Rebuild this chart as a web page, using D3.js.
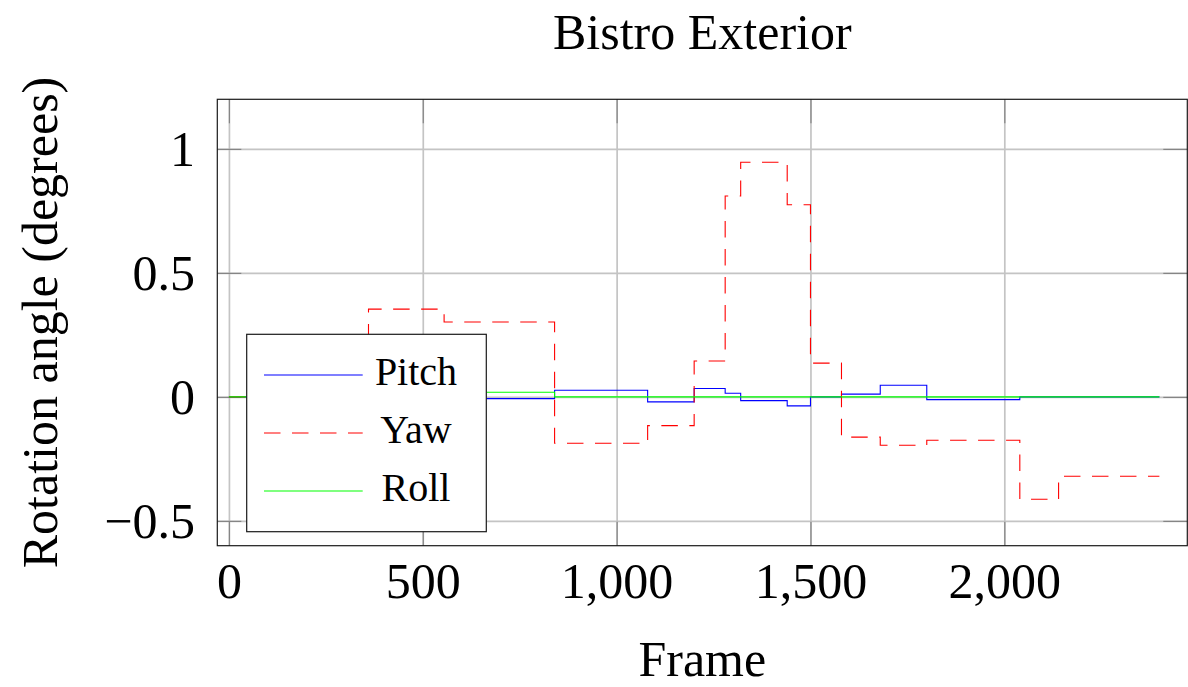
<!DOCTYPE html>
<html>
<head>
<meta charset="utf-8">
<script src="https://cdn.jsdelivr.net/npm/d3@7"></script>
<style>
  html, body { margin: 0; padding: 0; background: #fff; }
  svg { display: block; }
  text { font-family: "Liberation Serif", "Times New Roman", serif; fill: #000; }
</style>
</head>
<body>
<svg id="chart" width="1188" height="687"></svg>
<script>
// ---- Data (step series, value holds from frame until next frame) ----
const pitchFrames = [0, 360, 840, 1080, 1200, 1280, 1320, 1440, 1500, 1580, 1680, 1800, 2040, 2400];
const pitchValues = [0, -0.007, 0.027, -0.020, 0.034, 0.015, -0.015, -0.036, 0.0, 0.011, 0.047, -0.011, 0.0, 0.0];

const yawFrames = [0, 360, 555, 840, 1080, 1200, 1280, 1320, 1440, 1500, 1580, 1680, 1800, 2040, 2140, 2400];
const yawValues = [0, 0.354, 0.302, -0.187, -0.116, 0.145, 0.81, 0.946, 0.775, 0.136, -0.162, -0.195, -0.175, -0.413, -0.320, -0.320];

const rollFrames = [0, 360, 840, 2400];
const rollValues = [0, 0.019, 0.0, 0.0];

const xTicks = [0, 500, 1000, 1500, 2000];
const xTickLabels = ["0", "500", "1,000", "1,500", "2,000"];
const yTicks = [-0.5, 0, 0.5, 1];
const yTickLabels = ["\u22120.5", "0", "0.5", "1"];

const seriesNames = ["Pitch", "Yaw", "Roll"];
const seriesColors = ["#0000ff", "#ff0000", "#00ff00"];
const seriesDash = [null, "16.5 11.5", null];

// ---- Layout ----
const L = 217.3, R = 1187.3, T = 99.3, B = 545.7;
const svg = d3.select("#chart");

const x = d3.scaleLinear().domain([-30, 2472]).range([L, R]);
const y = d3.scaleLinear().domain([-0.6, 1.2]).range([B, T]);

// grid
const gridColor = "#c4c4c4";
const grid = svg.append("g");
grid.append("g").attr("transform", `translate(0,${B})`)
  .call(d3.axisBottom(x).tickValues(xTicks).tickSize(-(B - T)).tickFormat(""))
  .call(g => g.select(".domain").remove())
  .call(g => g.selectAll("line").attr("stroke", gridColor).attr("stroke-width", 1.7));
grid.append("g").attr("transform", `translate(${L},0)`)
  .call(d3.axisLeft(y).tickValues(yTicks).tickSize(-(R - L)).tickFormat(""))
  .call(g => g.select(".domain").remove())
  .call(g => g.selectAll("line").attr("stroke", gridColor).attr("stroke-width", 1.7));

// tick marks (inside, both sides)
const tickColor = "#858585", tickLen = 24;
const tickG = svg.append("g");
tickG.append("g").attr("transform", `translate(0,${B})`)
  .call(d3.axisBottom(x).tickValues(xTicks).tickSize(-tickLen).tickFormat(""))
  .call(g => g.select(".domain").remove())
  .call(g => g.selectAll("line").attr("stroke", tickColor).attr("stroke-width", 1.2));
tickG.append("g").attr("transform", `translate(0,${T})`)
  .call(d3.axisTop(x).tickValues(xTicks).tickSize(-tickLen).tickFormat(""))
  .call(g => g.select(".domain").remove())
  .call(g => g.selectAll("line").attr("stroke", tickColor).attr("stroke-width", 1.2));
tickG.append("g").attr("transform", `translate(${L},0)`)
  .call(d3.axisLeft(y).tickValues(yTicks).tickSize(-tickLen).tickFormat(""))
  .call(g => g.select(".domain").remove())
  .call(g => g.selectAll("line").attr("stroke", tickColor).attr("stroke-width", 1.2));
tickG.append("g").attr("transform", `translate(${R},0)`)
  .call(d3.axisRight(y).tickValues(yTicks).tickSize(-tickLen).tickFormat(""))
  .call(g => g.select(".domain").remove())
  .call(g => g.selectAll("line").attr("stroke", tickColor).attr("stroke-width", 1.2));

// series
const line = d3.line().x(d => x(d[0])).y(d => y(d[1])).curve(d3.curveStepAfter);
const series = [
  pitchFrames.map((f, i) => [f, pitchValues[i]]),
  yawFrames.map((f, i) => [f, yawValues[i]]),
  rollFrames.map((f, i) => [f, rollValues[i]])
];
series.forEach((data, i) => {
  svg.append("path")
    .datum(data)
    .attr("d", line)
    .attr("fill", "none")
    .attr("stroke", seriesColors[i])
    .attr("stroke-width", 1.1)
    .attr("stroke-dasharray", seriesDash[i]);
});

// frame
svg.append("rect")
  .attr("x", L).attr("y", T).attr("width", R - L).attr("height", B - T)
  .attr("fill", "none").attr("stroke", "#1a1a1a").attr("stroke-width", 1.2);

// tick labels
const xLab = svg.append("g").attr("transform", `translate(0,${B})`)
  .call(d3.axisBottom(x).tickValues(xTicks).tickSize(0).tickFormat((d, i) => xTickLabels[i]));
xLab.select(".domain").remove();
xLab.selectAll("text")
  .attr("y", 598 - B).attr("dy", null)
  .attr("font-size", 50)
  .attr("font-family", "Liberation Serif, Times New Roman, serif")
  .attr("fill", "#000");

const yLab = svg.append("g").attr("transform", `translate(${L},0)`)
  .call(d3.axisLeft(y).tickValues(yTicks).tickSize(0).tickFormat((d, i) => yTickLabels[i]));
yLab.select(".domain").remove();
yLab.selectAll("text")
  .attr("x", 195 - L).attr("dy", "0.34em")
  .attr("font-size", 50)
  .attr("font-family", "Liberation Serif, Times New Roman, serif")
  .attr("fill", "#000");

// titles
svg.append("text")
  .attr("x", (L + R) / 2).attr("y", 49)
  .attr("text-anchor", "middle").attr("font-size", 50)
  .text("Bistro Exterior");
svg.append("text")
  .attr("x", (L + R) / 2).attr("y", 676)
  .attr("text-anchor", "middle").attr("font-size", 50)
  .text("Frame");
svg.append("text")
  .attr("transform", `translate(57,${(T + B) / 2}) rotate(-90)`)
  .attr("text-anchor", "middle").attr("font-size", 50)
  .text("Rotation angle (degrees)");

// legend
const lg = svg.append("g");
lg.append("rect")
  .attr("x", 246.7).attr("y", 334.3).attr("width", 239.6).attr("height", 197.4)
  .attr("fill", "#fff").attr("stroke", "#1a1a1a").attr("stroke-width", 1.2);
const legendY = [375, 433, 491];
seriesNames.forEach((name, i) => {
  lg.append("line")
    .attr("x1", 264).attr("x2", 362.7)
    .attr("y1", legendY[i]).attr("y2", legendY[i])
    .attr("stroke", seriesColors[i]).attr("stroke-width", 1.1)
    .attr("stroke-dasharray", seriesDash[i]);
  lg.append("text")
    .attr("x", 416).attr("y", legendY[i] + 9.5)
    .attr("text-anchor", "middle").attr("font-size", 40)
    .text(name);
});
</script>
</body>
</html>
